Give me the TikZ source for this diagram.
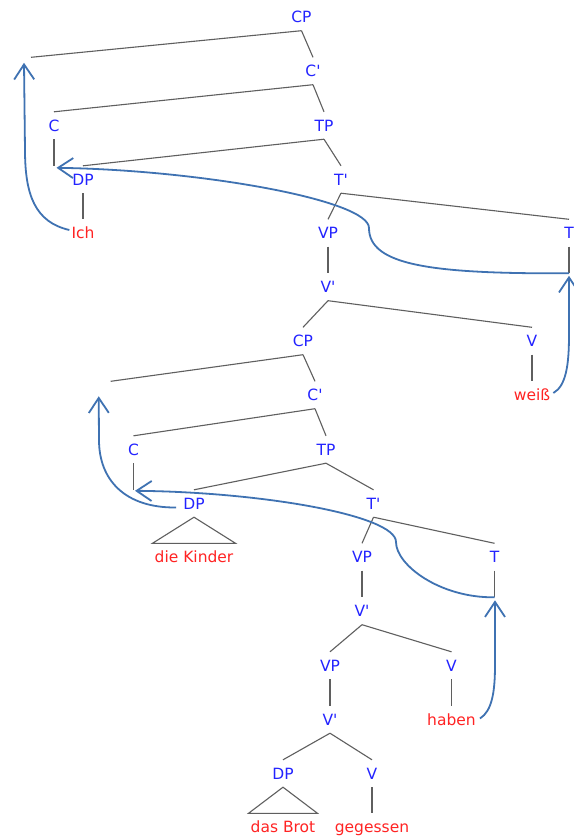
\documentclass[tikz,border=0pt]{standalone}
\usepackage{fontspec}
\setmainfont{DejaVu Sans}
\usetikzlibrary{arrows.meta,calc}
\definecolor{catblue}{RGB}{35,35,255}
\definecolor{wordred}{RGB}{255,35,35}
\definecolor{branchgray}{RGB}{95,95,95}
\definecolor{movecol}{RGB}{63,114,178}
\newcommand{\bartick}{\textquotesingle}
\begin{document}
\begin{tikzpicture}[x=1pt,y=-1pt,
  lbl/.style={inner xsep=2pt, inner ysep=0pt, minimum height=27pt,
    text height=11.3pt, text depth=0pt, font=\fontsize{15.5}{18}\selectfont},
  catlbl/.style={lbl, text=catblue},
  wordlbl/.style={lbl, text=wordred},
  emptyslot/.style={lbl},
  branchline/.style={draw=branchgray, line width=1.1pt},
  movement/.style={draw=movecol, line width=1.8pt,
    -{Straight Barb[length=15pt,width=20pt]}}]

\fill[white] (0,0) rectangle (573,838);
\useasboundingbox (0,0) rectangle (573,838);

% matrix clause
\node[catlbl] (cp1) at (301.5,17) {CP};
\node[emptyslot] (spec1) at (31,71) {};
\node[catlbl] (cb1) at (313,71) {C\bartick};
\node[catlbl] (c1) at (54,125.5) {C};
\node[catlbl] (tp1) at (324,125.5) {TP};
\node[emptyslot] (c1e) at (54,179.5) {};
\node[catlbl] (dp1) at (83,179.5) {DP};
\node[catlbl] (tb1) at (341,179.5) {T\bartick};
\node[wordlbl] (ich) at (83,233) {Ich};
\node[catlbl] (vp1) at (328,233) {VP};
\node[catlbl] (t1) at (569,233) {T};
\node[emptyslot] (t1e) at (569,287) {};
\node[catlbl] (vb1) at (328,287) {V\bartick};
\node[catlbl] (cp2) at (303,341) {CP};
\node[catlbl] (v1) at (532,341) {V};
\node[wordlbl] (weiss) at (532,395) {weiß};

% embedded clause
\node[emptyslot] (spec2) at (110.7,395) {};
\node[catlbl] (cb2) at (315,395) {C\bartick};
\node[catlbl] (c2) at (133.5,449.5) {C};
\node[catlbl] (tp2) at (326,449.5) {TP};
\node[emptyslot] (c2e) at (133.5,503.5) {};
\node[catlbl] (dp2) at (194,503.5) {DP};
\node[catlbl] (tb2) at (373.5,503.5) {T\bartick};
\node[wordlbl] (kinder) at (194,557) {die Kinder};
\node[catlbl] (vp2) at (362,557) {VP};
\node[catlbl] (t2) at (494.5,557) {T};
\node[emptyslot] (t2e) at (494.5,611) {};
\node[catlbl] (vb2) at (362,611) {V\bartick};
\node[catlbl] (vp3) at (330,665.5) {VP};
\node[catlbl] (v2) at (451.5,665.5) {V};
\node[catlbl] (vb3) at (330,719.5) {V\bartick};
\node[wordlbl] (haben) at (451.5,719.5) {haben};
\node[catlbl] (dp3) at (283,773.5) {DP};
\node[catlbl] (v3) at (372,773.5) {V};
\node[wordlbl] (brot) at (283,827) {das Brot};
\node[wordlbl] (gegessen) at (372,827) {gegessen};

% branches
\foreach \p/\c in {cp1/spec1, cp1/cb1, cb1/c1, cb1/tp1, c1/c1e, tp1/dp1,
    tp1/tb1, dp1/ich, tb1/vp1, tb1/t1, t1/t1e, vp1/vb1, vb1/cp2, vb1/v1,
    v1/weiss, cp2/spec2, cp2/cb2, cb2/c2, cb2/tp2, c2/c2e, tp2/dp2,
    tp2/tb2, tb2/vp2, tb2/t2, t2/t2e, vp2/vb2, vb2/vp3, vb2/v2, vp3/vb3,
    v2/haben, vb3/dp3, vb3/v3, v3/gegessen}
  \draw[branchline] (\p.south) -- (\c.north);

% phrase triangles
\draw[branchline] (dp2.south) -- (kinder.north west) -- (kinder.north east) -- cycle;
\draw[branchline] (dp3.south) -- (brot.north west) -- (brot.north east) -- cycle;

% movement arrows
\draw[movement] ($(ich.west)+(0,-3)$) .. controls (35,222) and (25,195) .. (25,150)
  -- ($(spec1.north)+(-7,5.5)$);
\draw[movement] (t1e.north) .. controls (430,274) and (369,265) .. (369,228)
  .. controls (369,200) and (200,170) .. ($(c1e.north)+(2.5,2)$);
\draw[movement] ($(weiss.east)+(1,-2)$) .. controls (566,386) and (569,365) .. (569,335)
  -- ($(t1e.north)+(0,2.5)$);
\draw[movement] ($(haben.east)+(2,-1)$) .. controls (492,711) and (495,692) .. (495,665)
  -- ($(t2e.north)+(0.5,3)$);
\draw[movement] (t2e.north) .. controls (440,598) and (396,565) .. (396,542)
  .. controls (396,515) and (260,492) .. ($(c2e.north)+(1.5,1)$);
\draw[movement] ($(dp2.west)+(-5,4)$) .. controls (125,508) and (99,480) .. (99,440)
  -- ($(spec2.north)+(-12,15)$);
\end{tikzpicture}
\end{document}
